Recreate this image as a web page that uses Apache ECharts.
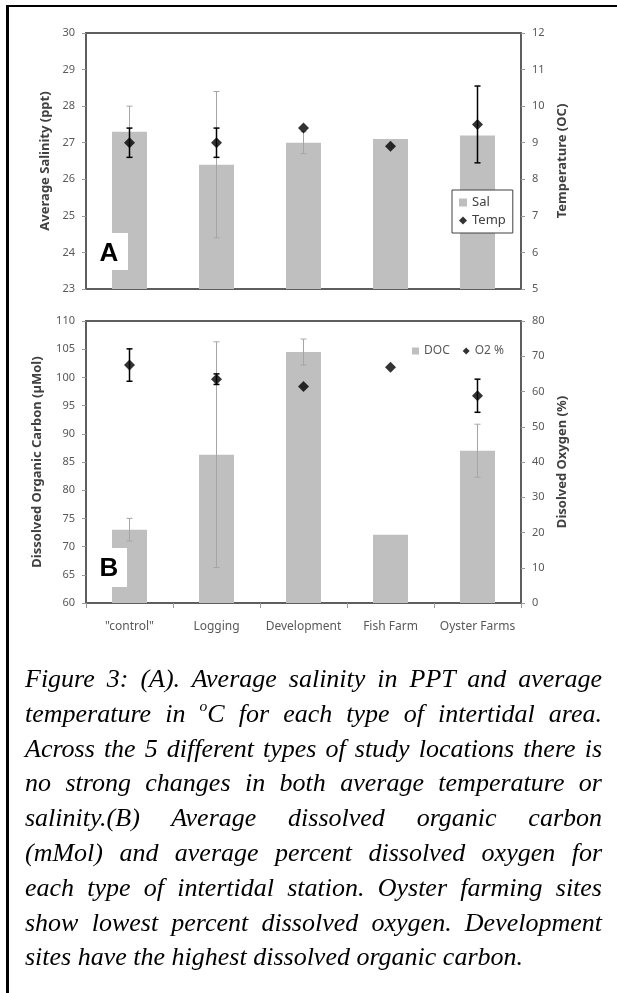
<!DOCTYPE html>
<html>
<head>
<meta charset="utf-8">
<script src="https://cdn.jsdelivr.net/npm/echarts@6/dist/echarts.min.js"></script>
<style>
  html, body { margin: 0; padding: 0; background: #fff; }
  #wrap { position: relative; width: 617px; height: 993px; overflow: hidden; background: #fff; }
  #chart { position: absolute; left: 0; top: 0; width: 617px; height: 993px; }
  #topline { position: absolute; left: 6px; top: 5px; width: 611px; height: 2px; background: #000; }
  #leftline { position: absolute; left: 6px; top: 5px; width: 3px; height: 988px; background: #000; }
  #caption { position: absolute; left: 25px; top: 662px; width: 577px;
    font-family: "Liberation Serif", "Times New Roman", serif; font-style: italic;
    font-size: 25px; line-height: 34.8px; color: #000; }
  #caption div { white-space: nowrap; text-align: justify; text-align-last: justify; }
  #caption div.last { text-align-last: left; }
  sup { font-size: 0.6em; line-height: 0; vertical-align: 0.7em; }
</style>
</head>
<body>
<div id="wrap">
  <div id="chart"></div>
  <div id="topline"></div>
  <div id="leftline"></div>
  <div id="caption">
    <div>Figure 3: (A). Average salinity in PPT and average</div>
    <div>temperature in <sup>o</sup>C for each type of intertidal area.</div>
    <div id="fitline">Across the 5 different types of study locations there is</div>
    <div>no strong changes in both average temperature or</div>
    <div>salinity.(B) Average dissolved organic carbon</div>
    <div>(mMol) and average percent dissolved oxygen for</div>
    <div>each type of intertidal station. Oyster farming sites</div>
    <div>show lowest percent dissolved oxygen. Development</div>
    <div class="last">sites have the highest dissolved organic carbon.</div>
  </div>
</div>
<script>
// ---- data ----
const categories = ['"control"', 'Logging', 'Development', 'Fish Farm', 'Oyster Farms'];
// Panel A
const salinity      = [27.3, 26.4, 27.0, 27.1, 27.2];
const salinityErr   = [0.7, 2.0, 0.3, 0, 0];
const temperature   = [9.0, 9.0, 9.4, 8.9, 9.5];
const temperatureErr= [0.4, 0.4, 0, 0, 1.05];
// Panel B
const doc           = [73.0, 86.3, 104.5, 72.1, 87.0];
const docErr        = [2.0, 20.0, 2.3, 0, 4.7];
const oxygen        = [67.5, 63.5, 61.4, 66.9, 58.8];
const oxygenErr     = [4.6, 1.5, 0, 0, 4.7];
// axis ranges [min, max, interval]
const salAxis  = [23, 30, 1];
const tempAxis = [5, 12, 1];
const docAxis  = [60, 110, 5];
const oxyAxis  = [0, 80, 10];

// ---- fit caption font so the naturally full line spans the text block ----
(function fitCaption() {
  const c = document.createElement('canvas').getContext('2d');
  c.font = 'italic 100px "Liberation Serif"';
  const w = c.measureText(document.getElementById('fitline').textContent).width;
  if (w > 0) {
    const fs = Math.min(26, 576 * 100 / w);
    document.getElementById('caption').style.fontSize = fs.toFixed(2) + 'px';
  }
})();

// ---- helpers ----
function errData(vals, errs) {
  return vals.map((v, i) => [i, v - errs[i], v + errs[i]]);
}
function errRender(color, lw, cap) {
  return function (params, api) {
    const x = api.value(0), lo = api.value(1), hi = api.value(2);
    if (!(hi > lo)) return null;
    const p1 = api.coord([x, lo]), p2 = api.coord([x, hi]);
    const st = { stroke: color, lineWidth: lw };
    return {
      type: 'group',
      children: [
        { type: 'line', shape: { x1: p1[0], y1: p1[1], x2: p2[0], y2: p2[1] }, style: st },
        { type: 'line', shape: { x1: p1[0] - cap, y1: p1[1], x2: p1[0] + cap, y2: p1[1] }, style: st },
        { type: 'line', shape: { x1: p2[0] - cap, y1: p2[1], x2: p2[0] + cap, y2: p2[1] }, style: st }
      ]
    };
  };
}

const FONT = '"Noto Sans", "Open Sans", sans-serif';
const labelColor = '#595959';
const titleColor = '#404040';
const barColor = '#bfbfbf';

function yAx(gridIndex, range, position, name, nameGap) {
  return {
    type: 'value', gridIndex: gridIndex, position: position,
    min: range[0], max: range[1], interval: range[2],
    name: name, nameLocation: 'middle', nameGap: nameGap, nameRotate: 90,
    nameTextStyle: { color: titleColor, fontFamily: FONT, fontSize: 13, fontWeight: 'bold' },
    axisLine: { show: false },
    axisTick: { show: true, length: 4, lineStyle: { color: '#999', width: 1 } },
    axisLabel: { color: labelColor, fontFamily: FONT, fontSize: 11, margin: 11 },
    splitLine: { show: false }
  };
}

const chart = echarts.init(document.getElementById('chart'), null, { renderer: 'canvas' });
chart.setOption({
  animation: false,
  backgroundColor: 'transparent',
  grid: [
    { left: 86, top: 33, width: 435, height: 256, show: true, borderColor: '#5e5e5e', borderWidth: 2, backgroundColor: 'transparent' },
    { left: 86, top: 321, width: 435, height: 282, show: true, borderColor: '#5e5e5e', borderWidth: 2, backgroundColor: 'transparent' }
  ],
  xAxis: [
    { type: 'category', gridIndex: 0, data: categories, boundaryGap: true,
      axisLine: { show: false }, axisTick: { show: false }, axisLabel: { show: false }, splitLine: { show: false } },
    { type: 'category', gridIndex: 1, data: categories, boundaryGap: true,
      axisLine: { show: false },
      axisTick: { show: true, length: 5, lineStyle: { color: '#999' } },
      axisLabel: { color: labelColor, fontFamily: FONT, fontSize: 12, margin: 18, interval: 0 },
      splitLine: { show: false } }
  ],
  yAxis: [
    yAx(0, salAxis, 'left', 'Average Salinity (ppt)', 31),
    yAx(0, tempAxis, 'right', 'Temperature (OC)', 29),
    yAx(1, docAxis, 'left', 'Dissolved Organic Carbon (µMol)', 42),
    yAx(1, oxyAxis, 'right', 'Disolved Oxygen (%)', 34)
  ],
  legend: [
    { orient: 'vertical', left: 452, top: 190, padding: [6, 7], itemGap: 5,
      borderColor: '#404040', borderWidth: 1, backgroundColor: '#fff',
      itemWidth: 8, itemHeight: 8, selectedMode: false,
      textStyle: { color: titleColor, fontFamily: FONT, fontSize: 13 },
      data: [
        { name: 'Sal', icon: 'rect', itemStyle: { color: barColor } },
        { name: 'Temp', icon: 'diamond', itemStyle: { color: '#000' } }
      ] },
    { orient: 'horizontal', left: 412, top: 345, padding: 0, itemGap: 13,
      itemWidth: 7, itemHeight: 7, selectedMode: false,
      textStyle: { color: labelColor, fontFamily: FONT, fontSize: 12 },
      data: [
        { name: 'DOC', icon: 'rect', itemStyle: { color: barColor } },
        { name: 'O2 %', icon: 'diamond', itemStyle: { color: '#000' } }
      ] }
  ],
  series: [
    { name: 'Sal', type: 'bar', xAxisIndex: 0, yAxisIndex: 0, data: salinity, barWidth: 35,
      itemStyle: { color: barColor }, z: 2 },
    { name: 'salErr', type: 'custom', xAxisIndex: 0, yAxisIndex: 0, data: errData(salinity, salinityErr),
      encode: { x: 0, y: [1, 2] }, renderItem: errRender('#a6a6a6', 1, 3), z: 3 },
    { name: 'tempErr', type: 'custom', xAxisIndex: 0, yAxisIndex: 1, data: errData(temperature, temperatureErr),
      encode: { x: 0, y: [1, 2] }, renderItem: errRender('#000', 1.5, 3), z: 4 },
    { name: 'Temp', type: 'scatter', xAxisIndex: 0, yAxisIndex: 1, data: temperature,
      symbol: 'diamond', symbolSize: 11, itemStyle: { color: '#000' }, z: 5 },

    { name: 'DOC', type: 'bar', xAxisIndex: 1, yAxisIndex: 2, data: doc, barWidth: 35,
      itemStyle: { color: barColor }, z: 2 },
    { name: 'docErr', type: 'custom', xAxisIndex: 1, yAxisIndex: 2, data: errData(doc, docErr),
      encode: { x: 0, y: [1, 2] }, renderItem: errRender('#a6a6a6', 1, 3), z: 3 },
    { name: 'oxyErr', type: 'custom', xAxisIndex: 1, yAxisIndex: 3, data: errData(oxygen, oxygenErr),
      encode: { x: 0, y: [1, 2] }, renderItem: errRender('#000', 1.5, 3), z: 4 },
    { name: 'O2 %', type: 'scatter', xAxisIndex: 1, yAxisIndex: 3, data: oxygen,
      symbol: 'diamond', symbolSize: 11, itemStyle: { color: '#000' }, z: 5 }
  ],
  graphic: [
    { type: 'rect', z: 100, shape: { x: 97, y: 233, width: 31, height: 37 }, style: { fill: '#fff' } },
    { type: 'text', z: 101, x: 109, y: 254, style: { text: 'A', fill: '#000', font: 'bold 26px "Liberation Sans", Arial, sans-serif', align: 'center', verticalAlign: 'middle' } },
    { type: 'rect', z: 100, shape: { x: 97, y: 548, width: 30, height: 39 }, style: { fill: '#fff' } },
    { type: 'text', z: 101, x: 109, y: 569, style: { text: 'B', fill: '#000', font: 'bold 26px "Liberation Sans", Arial, sans-serif', align: 'center', verticalAlign: 'middle' } }
  ]
});
</script>
</body>
</html>
